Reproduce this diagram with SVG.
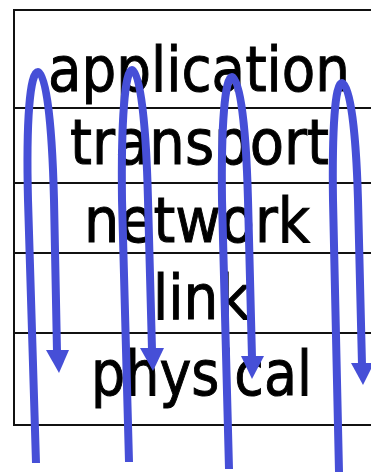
<svg xmlns="http://www.w3.org/2000/svg" width="371" height="474" viewBox="0 0 371 474">
  <style>
    .frame { fill: none; stroke: #111; stroke-width: 2; }
    .sep { stroke: #111; stroke-width: 2; }
    .label { font-family: "DejaVu Sans", Verdana, sans-serif; font-size: 62px; fill: #000; stroke: #000; stroke-width: 1; text-anchor: middle; }
    .flow { fill: none; stroke: #464fd7; stroke-width: 8; stroke-linecap: butt; }
    .head { fill: #464fd7; }
  </style>

  <rect width="371" height="474" fill="#fff"/>

  <!-- protocol stack -->
  <rect class="frame" x="14" y="10" width="380" height="415"/>

  <g id="application">
    <text class="label" x="199" y="91" textLength="302" lengthAdjust="spacingAndGlyphs">application</text>
  </g>
  <line class="sep" x1="14" y1="108" x2="371" y2="108"/>
  <g id="transport">
    <text class="label" x="199.5" y="164" textLength="259" lengthAdjust="spacingAndGlyphs">transport</text>
  </g>
  <line class="sep" x1="14" y1="183" x2="371" y2="183"/>
  <g id="network">
    <text class="label" x="197" y="242" textLength="226" lengthAdjust="spacingAndGlyphs">network</text>
  </g>
  <line class="sep" x1="14" y1="253" x2="371" y2="253"/>
  <g id="link">
    <text class="label" x="201.5" y="319" textLength="97" lengthAdjust="spacingAndGlyphs">link</text>
  </g>
  <line class="sep" x1="14" y1="333" x2="371" y2="333"/>
  <g id="physical">
    <text class="label" x="201.5" y="395" textLength="221" lengthAdjust="spacingAndGlyphs">physical</text>
  </g>

  <!-- loops: up from below, over the top, back down into physical -->
  <g id="connectors">
    <path class="flow" d="M36,463 L28,200 C26,120 30,72 38,72 C46,72 52,120 54,200 L57,352"/>
    <polygon class="head" points="46,350 69,350 59,373"/>

    <path class="flow" d="M129,462 L122,200 C121,120 125,70 132,70 C140,70 146,120 148,200 L152,350"/>
    <polygon class="head" points="140,348 164,348 153,371"/>

    <path class="flow" d="M229,469 L222,200 C221,125 225,77 232,77 C240,77 246,125 248,200 L252,358"/>
    <polygon class="head" points="241,356 264,356 252,379"/>

    <path class="flow" d="M339,472 L333,200 C332,130 335,83 342,83 C350,83 356,130 358,200 L362,365"/>
    <polygon class="head" points="351,363 374,363 363,385"/>
  </g>
</svg>
